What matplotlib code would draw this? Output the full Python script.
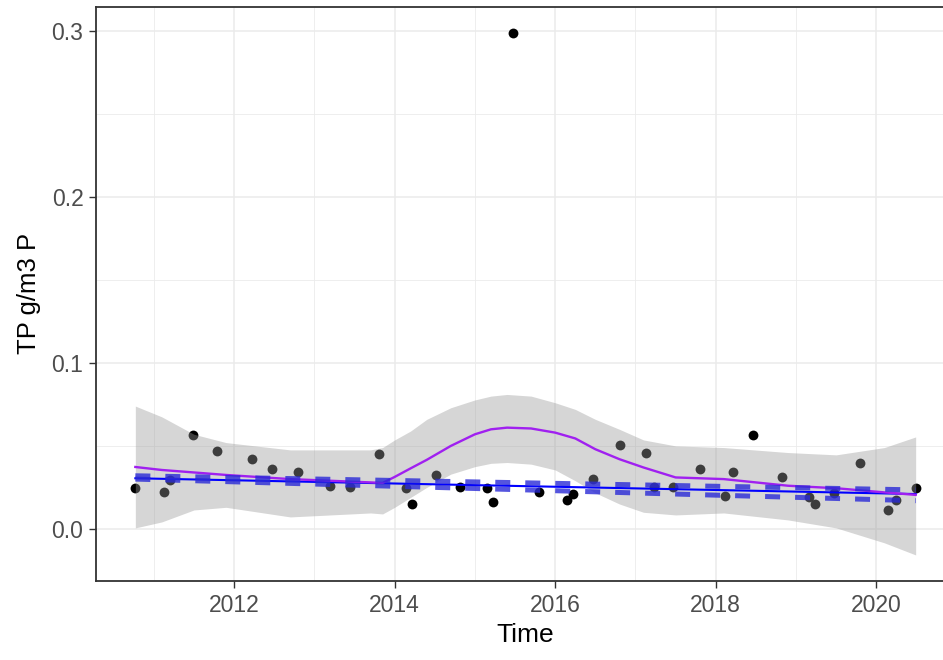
import matplotlib
matplotlib.use("Agg")
import matplotlib.pyplot as plt
from matplotlib.ticker import MultipleLocator

plt.rcParams['font.family'] = ['Liberation Sans', 'DejaVu Sans']

# observed total phosphorus (decimal year, g/m3)
obs_time = [2010.77, 2011.13, 2011.20, 2011.49, 2011.79, 2012.22, 2012.47, 2012.80,
            2013.20, 2013.45, 2013.81, 2014.14, 2014.22, 2014.52, 2014.82, 2015.15,
            2015.22, 2015.47, 2015.80, 2016.15, 2016.22, 2016.47, 2016.81, 2017.13,
            2017.23, 2017.47, 2017.80, 2018.12, 2018.22, 2018.47, 2018.83, 2019.16,
            2019.23, 2019.47, 2019.80, 2020.14, 2020.24, 2020.49]
obs_tp = [0.0247, 0.0223, 0.0295, 0.0566, 0.0470, 0.0420, 0.0360, 0.0340,
          0.0260, 0.0250, 0.0450, 0.0247, 0.0150, 0.0325, 0.0250, 0.0247,
          0.0160, 0.2990, 0.0220, 0.0175, 0.0210, 0.0300, 0.0506, 0.0458,
          0.0250, 0.0250, 0.0360, 0.0200, 0.0340, 0.0566, 0.0310, 0.0190,
          0.0150, 0.0217, 0.0400, 0.0114, 0.0175, 0.0247]

# loess smooth with its confidence band
smooth_time = [2010.77, 2011.10, 2011.50, 2011.90, 2012.70, 2013.70, 2013.85, 2014.00,
               2014.20, 2014.40, 2014.70, 2015.00, 2015.20, 2015.40, 2015.70, 2016.00,
               2016.25, 2016.50, 2016.80, 2017.10, 2017.50, 2018.10, 2018.90, 2019.50,
               2020.10, 2020.49]
smooth_fit = [0.0373, 0.0355, 0.0340, 0.0325, 0.0300, 0.0280, 0.0277, 0.0313,
              0.0365, 0.0416, 0.0500, 0.0570, 0.0600, 0.0610, 0.0605, 0.0580,
              0.0545, 0.0480, 0.0420, 0.0370, 0.0310, 0.0300, 0.0260, 0.0245,
              0.0220, 0.0205]
smooth_hi = [0.0740, 0.0675, 0.0570, 0.0520, 0.0476, 0.0476, 0.0490, 0.0536,
             0.0590, 0.0660, 0.0730, 0.0777, 0.0800, 0.0810, 0.0800, 0.0760,
             0.0720, 0.0660, 0.0600, 0.0536, 0.0500, 0.0490, 0.0460, 0.0446,
             0.0490, 0.0554]
smooth_lo = [0.0006, 0.0042, 0.0114, 0.0130, 0.0072, 0.0096, 0.0090, 0.0130,
             0.0190, 0.0250, 0.0330, 0.0375, 0.0395, 0.0400, 0.0390, 0.0355,
             0.0290, 0.0217, 0.0150, 0.0100, 0.0084, 0.0096, 0.0054, 0.0006,
             -0.0084, -0.0157]

# trend line and its bounds
trend_time = [2010.77, 2020.49]
trend_fit = [0.0305, 0.0210]
trend_upper = [0.0320, 0.0235]
trend_lower = [0.0300, 0.0170]

fig = plt.figure(figsize=(9.43, 6.60), dpi=100)
ax = fig.add_axes([96 / 943, 1 - 581 / 660, (955 - 96) / 943, (581 - 6.6) / 660])

ax.scatter(obs_time, obs_tp, s=50, color='black', zorder=3, linewidths=0)
ax.fill_between(smooth_time, smooth_lo, smooth_hi, color='#999999', alpha=0.4,
                linewidth=0, zorder=4)
ax.plot(trend_time, trend_fit, color='#0000ff', lw=1.5, zorder=5)
ax.plot(smooth_time, smooth_fit, color='#a020f0', lw=1.7, zorder=6)
for band in (trend_upper, trend_lower):
    ax.plot(trend_time, band, color='#2a2ad6', lw=3.6, alpha=0.8,
            dashes=(3, 3), solid_capstyle='butt', dash_capstyle='butt', zorder=7)

ax.set_xlim(2010.28, 2020.98)
ax.set_ylim(-0.0314, 0.3147)
ax.xaxis.set_minor_locator(MultipleLocator(1))
ax.yaxis.set_minor_locator(MultipleLocator(0.05))
ax.set_xticks([2012, 2014, 2016, 2018, 2020])
ax.set_xticklabels(['2012', '2014', '2016', '2018', '2020'])
ax.set_yticks([0.0, 0.1, 0.2, 0.3])
ax.set_yticklabels(['0.0', '0.1', '0.2', '0.3'])

ax.grid(which='major', color='#ebebeb', lw=1.1)
ax.grid(which='minor', color='#ebebeb', lw=0.6)
ax.set_axisbelow(True)
for side in ax.spines.values():
    side.set_color('#333333')
    side.set_linewidth(1.3)

ax.tick_params(which='major', length=5, width=1.0, color='#333333',
               labelsize=16.5, labelcolor='#4d4d4d', pad=4)
ax.tick_params(which='minor', length=0)

ax.set_xlabel('Time', fontsize=19, labelpad=5)
ax.set_ylabel('TP g/m3 P', fontsize=18.5, labelpad=8)

fig.savefig('out.png', dpi=100)
